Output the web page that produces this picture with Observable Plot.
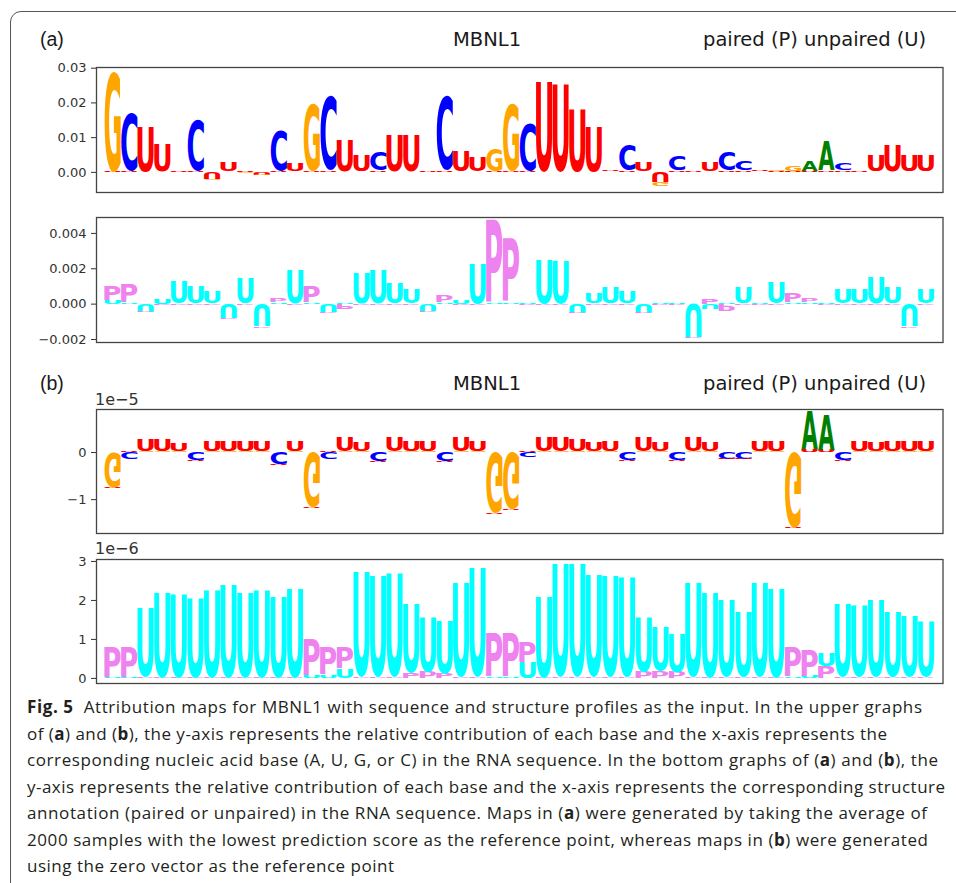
<!DOCTYPE html>
<html><head><meta charset="utf-8">
<script src="https://cdn.jsdelivr.net/npm/d3@7"></script>
<script src="https://cdn.jsdelivr.net/npm/@observablehq/plot@0.6"></script>
<style>
body{margin:0;background:#fff;}
#page{position:relative;width:956px;height:883px;overflow:hidden;background:#fff;}
#box{position:absolute;left:10px;top:11px;width:990px;height:930px;border:1.3px solid #555;border-radius:11px;box-sizing:border-box;}
#overlay{position:absolute;left:0;top:0;}
</style></head>
<body><div id="page"><div id="box"></div></div>
<script>
// ---------- data: 50 positions per logo ----------
// (a) upper: nucleotide contributions
const aTopU = [0.0003,0.0003,0.0130,0.0082,0.0003,0.0003,-0.0020,0.0027,0.0002,-0.0006,
               0.0003,0.0024,0.0003,0.0003,0.0092,0.0045,0.0003,0.0107,0.0107,0.0003,
               0.0003,0.0058,0.0042,0.0003,0.0003,0.0003,0.0260,0.0255,0.0180,0.0130,
               0.0004,0.0003,0.0025,-0.0030,0.0003,0.0003,0.0025,0.0003,0.0003,0.0005,
               0.0003,0.0002,0.0002,0.0002,0.0003,0.0003,0.0044,0.0078,0.0044,0.0046];
const aTopC = [0,0.0167,0,0,0,0.0147,0,0,0,0,
               0.0118,0,0,0.0216,0,0,0.0055,0,0,0,
               0.0213,0,0,0,0,0.0135,0,0,0,0,
               0,0.0072,0,0,0.0044,0,0,0.0054,0.0026,0,
               0,0,0,0,0.0020,0,0,0,0,0];
const aTopG = [0.0288,0.0001,0.0001,0.0001,0.0001,0.0001,-0.0005,0.0001,-0.0004,-0.0004,
               0.0001,0.0001,0.0193,0.0001,0.0001,0.0001,0.0001,0.0001,0.0001,0.0001,
               0.0001,0.0001,0.0001,0.0065,0.0193,0.0001,0.0001,0.0001,0.0001,0.0001,
               0.0001,0.0001,0.0001,-0.0010,0.0001,0.0001,0.0001,0.0001,0.0001,0.0001,
               0.0005,0.0015,0.0001,0.0001,0.0001,0.0001,0.0001,0.0001,0.0001,0.0001];
const aTopA = [0,0,0,0,0,0,0,0,0,0, 0,0,0,0,0,0,0,0,0,0, 0,0,0,0,0,0,0,0,0,0,
               0,0,0,0,0,0,0,0,0,0, 0,0,0.0030,0.0083,0,0,0,0,0,0];
// (a) lower: structure contributions
const aBotP = [0.0008,0.0010,-0.00005,-0.00005,-0.00005,-0.00005,-0.00005,-0.00005,-0.00005,-0.00005,
               0.0002,-0.00005,0.0009,-0.00005,-0.0003,-0.00005,-0.00005,-0.00005,-0.00005,-0.00005,
               0.0004,-0.00005,-0.00005,0.0047,0.0036,-0.00005,-0.00005,-0.00005,-0.00005,-0.00005,
               -0.00005,-0.00005,-0.00005,-0.00005,-0.00005,-0.00005,0.0003,-0.0004,-0.00005,-0.00005,
               -0.00005,0.0005,0.0002,-0.00005,-0.00005,-0.00005,-0.00005,-0.00005,-0.00005,-0.00005];
const aBotU = [0.0002,0.0001,-0.00044,0.0003,0.0013,0.00096,0.0007,-0.0008,0.0014,-0.0013,
               0.0001,0.0019,0.0001,-0.00045,0.0001,0.0017,0.0019,0.0011,0.0008,-0.0004,
               0.0001,0.0002,0.0023,0.0001,0.0001,0.0001,0.0025,0.0024,-0.0005,0.0006,
               0.0009,0.0007,-0.0005,0.0001,0.0001,-0.0019,-0.0003,0.0001,0.0009,0.0001,
               0.0012,0.0001,0.0001,0.0001,0.0008,0.0008,0.0015,0.0009,-0.0013,0.0008];
// (b) upper, units of 1e-5
const bTopU = [-0.03,0.02,0.25,0.25,0.16,-0.02,0.22,0.22,0.22,0.23,
               -0.02,0.22,-0.03,0.02,0.32,0.19,-0.02,0.32,0.22,0.22,
               -0.02,0.32,0.22,-0.03,-0.03,0.02,0.32,0.32,0.26,0.20,
               0.22,-0.02,0.32,0.20,-0.02,0.32,0.20,-0.02,-0.02,0.22,
               0.22,-0.03,0.05,0.04,-0.02,0.22,0.20,0.22,0.22,0.22];
const bTopC = [0,-0.15,0,0,0,-0.17,0,0,0,0,
               -0.25,0,0,-0.13,0,0,-0.20,0,0,0,
               -0.20,0,0,0,0,-0.10,0,0,0,0,
               0,-0.17,0,0,-0.17,0,0,-0.13,-0.13,0,
               0,0,0,0,-0.17,0,0,0,0,0];
const bTopG = [-0.74,0,0.015,0.015,0.015,0,0.015,0.015,0.015,0.015,
               0,0.015,-1.17,0,0.015,0.015,0,0.015,0.015,0.015,
               0,0.015,0.015,-1.30,-1.22,0,0.015,0.015,0.015,0.015,
               0.015,0,0.015,0.015,0,0.015,0.015,0,0,0.015,
               0.015,-1.60,0,0,0,0.015,0.015,0.015,0.015,0.015];
const bTopA = [0,0,0,0,0,0,0,0,0,0, 0,0,0,0,0,0,0,0,0,0, 0,0,0,0,0,0,0,0,0,0,
               0,0,0,0,0,0,0,0,0,0, 0,0,0.80,0.75,0,0,0,0,0,0];
// (b) lower, units of 1e-6
const bBotP = [0.78,0.78,0.03,0.03,0.03,0.03,0.03,0.03,0.03,0.03,
               0.03,0.03,0.95,0.72,0.55,0.03,0.03,0.03,0.12,0.15,
               0.12,0.03,0.03,1.12,1.12,0.50,0.03,0.03,0.03,0.03,
               0.03,0.03,0.15,0.18,0.15,0.03,0.03,0.03,0.03,0.03,
               0.03,0.74,0.68,0.30,0.03,0.03,0.03,0.03,0.03,0.03];
const bBotU = [0.02,0.02,1.77,2.20,2.15,2.05,2.25,2.40,2.20,2.25,
               2.10,2.30,0.05,0.08,0.25,2.72,2.60,2.68,1.77,1.42,
               1.38,2.43,2.80,0.03,0.03,0.40,2.10,2.93,2.90,2.65,
               2.60,2.58,1.39,1.14,1.00,2.43,2.20,2.00,1.67,2.43,
               2.28,0.03,0.05,0.35,1.90,1.85,1.98,1.68,1.58,1.44];

const NUC = {A:"#008000", C:"#0000ff", G:"#ffa500", U:"#ff0000"};
const STRUCT = {P:"#ee82ee", U:"#00ffff"};

// ---------- stacking (positive: small near 0; negative: big near 0) ----------
function stackRows(series){
  const rows = [];
  const n = series[0].values.length;
  for (let i = 0; i < n; i++){
    const items = series.map(s => ({letter:s.letter, color:s.color, v:s.values[i]}));
    const pos = items.filter(d => d.v > 0).sort((a,b) => a.v - b.v);
    const neg = items.filter(d => d.v < 0).sort((a,b) => a.v - b.v);
    let y = 0;
    for (const d of pos){ rows.push({pos:i, letter:d.letter, color:d.color, y1:y, y2:y + d.v, flip:false}); y += d.v; }
    y = 0;
    for (const d of neg){ rows.push({pos:i, letter:d.letter, color:d.color, y1:y + d.v, y2:y, flip:true}); y += d.v; }
  }
  return rows;
}

// ---------- glyph metrics ----------
const mctx = document.createElement("canvas").getContext("2d");
mctx.font = "bold 100px 'DejaVu Sans'";
mctx.textAlign = "left";
mctx.textBaseline = "alphabetic";
const metricsCache = {};
function metric(ch){
  if (!metricsCache[ch]){
    const t = mctx.measureText(ch);
    metricsCache[ch] = {l:t.actualBoundingBoxLeft, r:t.actualBoundingBoxRight, a:t.actualBoundingBoxAscent, d:t.actualBoundingBoxDescent};
  }
  return metricsCache[ch];
}

// Each stacked letter is stretched to fill its scaled (x1,x2,y1,y2) box.
function renderGlyphs(rows){
  return (index, scales, values) => {
    const g = d3.create("svg:g").attr("text-anchor", "start");
    for (const i of index){
      const r = rows[i], mt = metric(r.letter);
      const xa = Math.min(values.x1[i], values.x2[i]), xb = Math.max(values.x1[i], values.x2[i]);
      const ya = Math.min(values.y1[i], values.y2[i]), yb = Math.max(values.y1[i], values.y2[i]);
      const w = xb - xa, h = yb - ya;
      if (!(h > 0.05)) continue;
      const sx = w / (mt.l + mt.r), sy = h / (mt.a + mt.d);
      const tx = xa + mt.l * sx;
      const tr = r.flip
        ? `translate(${tx},${yb - mt.a * sy}) scale(${sx},${-sy})`
        : `translate(${tx},${ya + mt.a * sy}) scale(${sx},${sy})`;
      g.append("text").attr("transform", tr).attr("fill", r.color)
        .attr("text-anchor", "start")
        .attr("font-family", "DejaVu Sans").attr("font-weight", "bold").attr("font-size", 100)
        .text(r.letter);
    }
    return g.node();
  };
}

const page = document.getElementById("page");
function panel(rows, yDomain, ticks, fmt, top, frameH){
  const chart = Plot.plot({
    width: 956, height: 17 + frameH + 8,
    marginLeft: 96, marginRight: 13.5, marginTop: 17, marginBottom: 8,
    x: {domain: [-1, 50], axis: null},
    y: {domain: yDomain, ticks: ticks, tickFormat: fmt, tickSize: 5, tickPadding: 5, label: null},
    color: {type: "identity"},
    style: {fontFamily: "DejaVu Sans", fontSize: "13px", color: "#333", background: "transparent", overflow: "visible"},
    marks: [
      Plot.rect(rows, {x1: d => d.pos - 0.49, x2: d => d.pos + 0.49, y1: "y1", y2: "y2", fill: "color", render: renderGlyphs(rows)}),
      Plot.frame({stroke: "#444", strokeWidth: 1.3})
    ]
  });
  chart.style.position = "absolute";
  chart.style.left = "0px";
  chart.style.top = top + "px";
  page.appendChild(chart);
}

const rowsAT = stackRows([{letter:"A",color:NUC.A,values:aTopA},{letter:"C",color:NUC.C,values:aTopC},{letter:"G",color:NUC.G,values:aTopG},{letter:"U",color:NUC.U,values:aTopU}]);
const rowsAB = stackRows([{letter:"P",color:STRUCT.P,values:aBotP},{letter:"U",color:STRUCT.U,values:aBotU}]);
const rowsBT = stackRows([{letter:"A",color:NUC.A,values:bTopA},{letter:"C",color:NUC.C,values:bTopC},{letter:"G",color:NUC.G,values:bTopG},{letter:"U",color:NUC.U,values:bTopU}]);
const rowsBB = stackRows([{letter:"P",color:STRUCT.P,values:bBotP},{letter:"U",color:STRUCT.U,values:bBotU}]);

panel(rowsAT, [-0.0058, 0.0302], [0, 0.01, 0.02, 0.03], d3.format(".2f"), 50, 125);
panel(rowsAB, [-0.00217, 0.0049], [-0.002, 0, 0.002, 0.004], d3.format(".3f"), 200, 125);
panel(rowsBT, [-1.72, 0.915], [-1, 0], d3.format("d"), 392, 124);
panel(rowsBB, [-0.13, 3.05], [0, 1, 2, 3], d3.format("d"), 542, 124);

// ---------- overlay text: titles, offsets, caption ----------
const titles = [
  {t:"(a)", x:40, y:46, font:"Liberation Sans"},
  {t:"MBNL1", x:453, y:46, font:"DejaVu Sans"},
  {t:"paired (P) unpaired (U)", x:703, y:46, font:"DejaVu Sans"},
  {t:"(b)", x:40, y:390, font:"Liberation Sans"},
  {t:"MBNL1", x:453, y:390, font:"DejaVu Sans"},
  {t:"paired (P) unpaired (U)", x:703, y:390, font:"DejaVu Sans"}
];
const offsets = [{t:"1e\u22125", x:95, y:405}, {t:"1e\u22126", x:95, y:554}];
const captionLines = [
  [["Fig. 5", true], ["  Attribution maps for MBNL1 with sequence and structure profiles as the input. In the upper graphs", false]],
  [["of (", false], ["a", true], [") and (", false], ["b", true], ["), the y-axis represents the relative contribution of each base and the x-axis represents the", false]],
  [["corresponding nucleic acid base (A, U, G, or C) in the RNA sequence. In the bottom graphs of (", false], ["a", true], [") and (", false], ["b", true], ["), the", false]],
  [["y-axis represents the relative contribution of each base and the x-axis represents the corresponding structure", false]],
  [["annotation (paired or unpaired) in the RNA sequence. Maps in (", false], ["a", true], [") were generated by taking the average of", false]],
  [["2000 samples with the lowest prediction score as the reference point, whereas maps in (", false], ["b", true], [") were generated", false]],
  [["using the zero vector as the reference point", false]]
];
const captionEnds = [922, 887, 938, 945, 927, 928, 394];

const svg = d3.select(page).append("svg").attr("id", "overlay").attr("width", 956).attr("height", 883);
svg.selectAll("text.title").data(titles).join("text").attr("class", "title")
  .attr("x", d => d.x).attr("y", d => d.y).attr("font-family", d => d.font).attr("font-size", 19.5)
  .attr("fill", "#1a1a1a").text(d => d.t);
svg.selectAll("text.off").data(offsets).join("text").attr("class", "off")
  .attr("x", d => d.x).attr("y", d => d.y).attr("font-family", "DejaVu Sans").attr("font-size", 16)
  .attr("fill", "#333").text(d => d.t);
captionLines.forEach((segs, k) => {
  const t = svg.append("text").attr("x", 27).attr("y", 713 + k * 26.5)
    .attr("font-family", "Open Sans").attr("font-size", 17).attr("fill", "#231f20")
    .attr("textLength", captionEnds[k] - 27).attr("lengthAdjust", "spacing")
    .style("white-space", "pre");
  segs.forEach(([s, b]) => t.append("tspan").attr("font-weight", b ? "bold" : null).text(s));
});
</script>
</body></html>
